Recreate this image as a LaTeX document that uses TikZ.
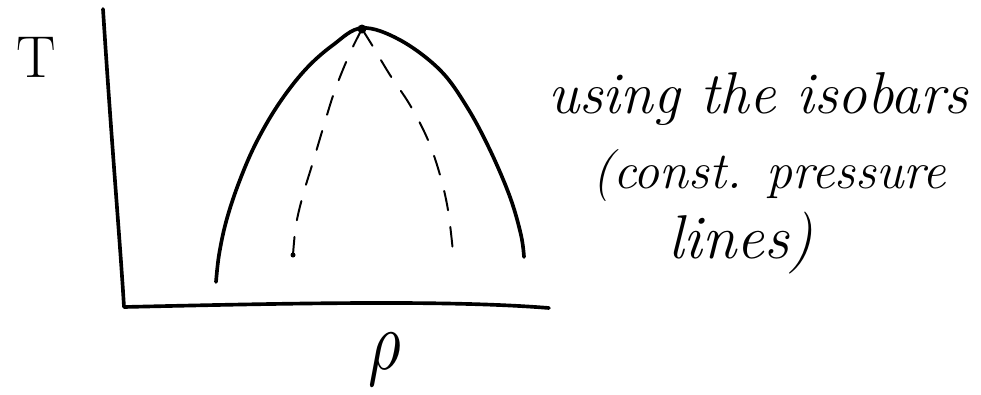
\documentclass[tikz,border=0pt]{standalone}
\usepackage{tikz}

\tikzset{
    axis/.style={line width=2.6pt, line cap=round, line join=round},
    binodal/.style={line width=2.6pt, line cap=round},
    spinodal/.style={line width=1.4pt, line cap=round, dash pattern=on 14pt off 12pt},
    note/.style={anchor=base west, inner sep=0pt, font=\itshape}
}

\begin{document}
\begin{tikzpicture}[x=0.025cm, y=-0.025cm]
        \useasboundingbox (0,0) rectangle (981,395);

        % Оси.
        \coordinate (ytop) at (103,9);
        \coordinate (O) at (124,307);
        \coordinate (xend) at (549,308);
        \draw[axis] (ytop) .. controls (112,150) and (120,240) .. (O)
            .. controls (300,303) and (450,300) .. (xend);

        \node (Tlabel) at (36,57) {\fontsize{42}{44}\selectfont T};
        \node[xscale=4.5, yscale=6] (rholabel) at (385,360) {$\rho$};

        % Кривая сосуществования.
        \coordinate (crit) at (362,29);
        \draw[binodal] plot[smooth, tension=0.6] coordinates {
            (216,282) (219,255) (226,222) (238,185) (255,145) (278,105)
            (305,70) (333,45) (362,28) (400,40) (440,70) (467,107)
            (490,150) (510,197) (521,235) (524,257)};
        \fill (crit) circle (4.5);

        % Спинодаль.
        \draw[spinodal] plot[smooth, tension=0.6] coordinates {
            (crit) (350,53) (335,90) (324,125) (313,162) (303,195)
            (296,225) (293,255)};
        \draw[spinodal] plot[smooth, tension=0.6] coordinates {
            (crit) (372,45) (390,75) (410,105) (428,140) (440,175)
            (448,210) (453,252)};
        \fill (293,255) circle (2.5);

        % Подпись.
        \node[note] (note1) at (548,113) {\fontsize{42}{48}\selectfont using the isobars};
        \node[note] (note2) at (592,188) {\fontsize{37}{44}\selectfont (const. pressure};
        \node[note] (note3) at (668,258) {\fontsize{44}{48}\selectfont lines)};
    \end{tikzpicture}
\end{document}
